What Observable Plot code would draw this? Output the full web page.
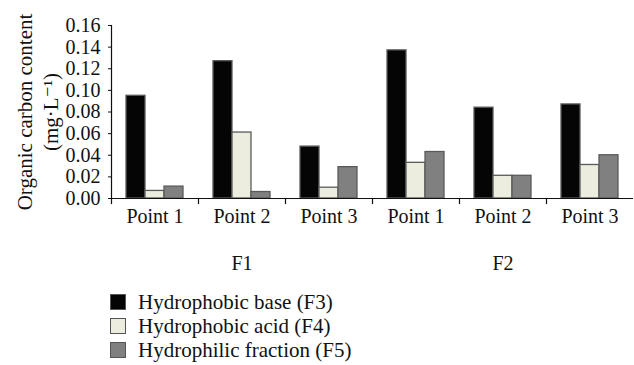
<!DOCTYPE html>
<html>
<head>
<meta charset="utf-8">
<script src="https://cdn.jsdelivr.net/npm/d3@7"></script>
<script src="https://cdn.jsdelivr.net/npm/@observablehq/plot@0.6"></script>
<style>
  body { margin: 0; background: #fff; font-family: "Liberation Serif", "DejaVu Serif", serif; }
  #chart svg { display: block; }
  .legend { margin: 10px 0 0 110px; }
  .legend .row { display: flex; align-items: center; height: 24px; font-size: 21px; color: #111; line-height: 24px; }
  .legend .sw { width: 14px; height: 14px; border: 1.5px solid #555; margin-right: 12px; box-sizing: content-box; }
</style>
</head>
<body>
<div id="chart"></div>
<div class="legend" id="legend"></div>
<script>
const groups = ["F1", "F2"];
const points = ["Point 1", "Point 2", "Point 3"];
const series = ["Hydrophobic base (F3)", "Hydrophobic acid (F4)", "Hydrophilic fraction (F5)"];
const base = [0.095, 0.127, 0.048, 0.137, 0.084, 0.087];
const acid = [0.007, 0.061, 0.010, 0.033, 0.021, 0.031];
const phil = [0.011, 0.006, 0.029, 0.043, 0.021, 0.040];
const colors = ["#050505", "#ececdf", "#808080"];
const yTicks = [0, 0.02, 0.04, 0.06, 0.08, 0.10, 0.12, 0.14, 0.16];
const yLabel = "Organic carbon content\n(mg·L⁻¹)";

const keys = [];
groups.forEach(g => points.forEach(p => keys.push(g + "|" + p)));
const valuesBySeries = [base, acid, phil];
const data = [];
keys.forEach((k, i) => series.forEach((s, j) => data.push({key: k, series: s, value: valuesBySeries[j][i]})));
const groupLabels = groups.map(g => ({key: g + "|" + points[1], label: g}));

const H = 280, MT = 25, MB = 82;
const innerH = H - MT - MB;

const chart = Plot.plot({
  width: 634,
  height: H,
  marginLeft: 109,
  marginRight: 0,
  marginTop: MT,
  marginBottom: MB,
  style: {fontFamily: "Liberation Serif, DejaVu Serif, serif", color: "#111", background: "#fff"},
  fx: {domain: keys, padding: 0, axis: null},
  x: {domain: series, paddingInner: 0, paddingOuter: 0.76, axis: null},
  y: {domain: [0, 0.16], axis: null},
  color: {domain: series, range: colors},
  marks: [
    Plot.barY(data, {fx: "key", x: "series", y: "value", fill: "series", stroke: "#5a5a5a", strokeWidth: 1.3}),
    Plot.ruleY([0], {stroke: "#111", strokeWidth: 1.2}),
    Plot.frame({anchor: "left", facetAnchor: "left", stroke: "#111", strokeWidth: 1.2}),
    Plot.frame({anchor: "left", insetTop: innerH, insetBottom: -5, stroke: "#111", strokeWidth: 1.2}),
    Plot.axisY({ticks: yTicks, tickFormat: d3.format(".2f"), tickSize: 3, tickPadding: 8, fontSize: 20, label: null, facetAnchor: "left", anchor: "left"}),
    Plot.axisFx({anchor: "bottom", tickSize: 0, tickPadding: 10, fontSize: 20, label: null, tickFormat: d => d.split("|")[1]}),
    Plot.text(groupLabels, {fx: "key", text: "label", frameAnchor: "bottom", dy: 65, fontSize: 20, lineAnchor: "middle"}),
    Plot.text([yLabel], {frameAnchor: "left", facetAnchor: "left", rotate: -90, dx: -75, fontSize: 21, lineHeight: 1.25, lineAnchor: "middle", textAnchor: "middle"})
  ]
});
document.getElementById("chart").appendChild(chart);

const legend = document.getElementById("legend");
series.forEach((s, i) => {
  const row = document.createElement("div");
  row.className = "row";
  const sw = document.createElement("span");
  sw.className = "sw";
  sw.style.background = colors[i];
  row.appendChild(sw);
  const t = document.createElement("span");
  t.textContent = s;
  row.appendChild(t);
  legend.appendChild(row);
});
</script>
</body>
</html>
